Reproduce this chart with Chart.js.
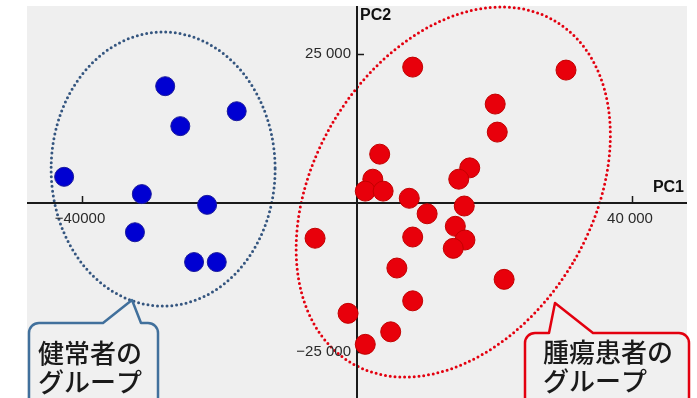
<!DOCTYPE html>
<html>
<head>
<meta charset="utf-8">
<script src="https://cdn.jsdelivr.net/npm/chart.js@4/dist/chart.umd.min.js"></script>
<style>
    html, body { margin: 0; padding: 0; background: #ffffff; }
    canvas { display: block; }
</style>
</head>
<body>
<canvas id="pca-chart" width="697" height="398"></canvas>
<script>
// PCA scores
const healthyX = [-27900, -17500, -25700, -42600, -31300, -21800, -32300, -23700, -20400];
const healthyY = [19600, 15400, 12900, 4400, 1500, -300, -4900, -9900, -9900];

const tumorX = [8100, 30400, 20100, 20400, 3300, 16400, 14800, 2300, 1200, 3800, 7600, 15600,
    10200, 14300, 15700, 14000, 8100, 5800, 21400, 8100, -1300, 4900, 1200, -6100];
const tumorY = [22800, 22300, 16600, 11900, 8200, 5900, 4000, 4000, 2000, 2000, 800, -500,
    -1800, -3900, -6200, -7600, -5700, -10900, -12800, -16400, -18500, -21600, -23700, -5900];

const xTicks = [-40000, 40000];
const xTickLabels = ['\u221240000', '40 000'];
const yTicks = [25000, -25000];
const yTickLabels = ['25 000', '\u221225 000'];

const axisTitles = ['PC1', 'PC2'];
const groupLabels = [['健常者の', 'グループ'], ['腫瘍患者の', 'グループ']];

document.addEventListener('DOMContentLoaded', function () {
    const ctx = document.getElementById('pca-chart').getContext('2d');

    const toPoints = (xs, ys) => xs.map((x, i) => ({ x: x, y: ys[i] }));

    // grey plot background
    const backgroundPlugin = {
        id: 'plotBackground',
        beforeDraw(chart) {
            const { ctx, chartArea } = chart;
            ctx.save();
            ctx.fillStyle = '#efefef';
            ctx.fillRect(chartArea.left, chartArea.top, chartArea.right - chartArea.left, chartArea.bottom - chartArea.top);
            ctx.restore();
        }
    };

    // axes through the origin, ticks pointing inwards
    const axesPlugin = {
        id: 'centerAxes',
        beforeDatasetsDraw(chart) {
            const { ctx, chartArea, scales } = chart;
            const x0 = scales.x.getPixelForValue(0);
            const y0 = scales.y.getPixelForValue(0);

            // dotted group ellipses
            ctx.save();
            ctx.lineCap = 'round';
            ctx.lineWidth = 3;
            ctx.setLineDash([0, 4.8]);

            ctx.strokeStyle = '#34557f';
            ctx.beginPath();
            ctx.ellipse(scales.x.getPixelForValue(-28200), scales.y.getPixelForValue(5700), 112, 137, 0, 0, Math.PI * 2);
            ctx.stroke();

            ctx.strokeStyle = '#e3000f';
            ctx.beginPath();
            ctx.ellipse(scales.x.getPixelForValue(14000), scales.y.getPixelForValue(1850), 139, 199, 0.54, 0, Math.PI * 2);
            ctx.stroke();
            ctx.restore();

            ctx.save();
            ctx.strokeStyle = '#1a1a1a';
            ctx.lineWidth = 2;
            ctx.beginPath();
            ctx.moveTo(chartArea.left, y0);
            ctx.lineTo(chartArea.right, y0);
            ctx.moveTo(x0, chartArea.top);
            ctx.lineTo(x0, chartArea.bottom);
            ctx.stroke();

            ctx.lineWidth = 1.5;
            ctx.beginPath();
            xTicks.forEach(v => {
                const px = Math.round(scales.x.getPixelForValue(v)) + 0.5;
                ctx.moveTo(px, y0);
                ctx.lineTo(px, y0 - 7);
            });
            yTicks.forEach(v => {
                const py = Math.round(scales.y.getPixelForValue(v)) + 0.5;
                ctx.moveTo(x0, py);
                ctx.lineTo(x0 + 7, py);
            });
            ctx.stroke();

            ctx.fillStyle = '#2a2a2a';
            ctx.font = '15px "Liberation Sans", Arial, sans-serif';
            ctx.textBaseline = 'middle';
            ctx.textAlign = 'center';
            xTicks.forEach((v, i) => {
                ctx.fillText(xTickLabels[i], scales.x.getPixelForValue(v) - 2, y0 + 16);
            });
            ctx.textAlign = 'right';
            yTicks.forEach((v, i) => {
                ctx.fillText(yTickLabels[i], x0 - 6, scales.y.getPixelForValue(v));
            });

            ctx.fillStyle = '#111111';
            ctx.font = 'bold 16px "Liberation Sans", Arial, sans-serif';
            ctx.textAlign = 'right';
            ctx.fillText(axisTitles[0], chartArea.right - 3, y0 - 15);
            ctx.textAlign = 'left';
            ctx.fillText(axisTitles[1], x0 + 3, chartArea.top + 10);
            ctx.restore();
        }
    };

    // speech bubbles with the group names
    function drawCallout(ctx, box, tail, color, lines, textX, textY) {
        const r = 10;
        ctx.save();
        ctx.beginPath();
        ctx.moveTo(box.left + r, box.top);
        ctx.lineTo(tail.left, box.top);
        ctx.lineTo(tail.tipX, tail.tipY);
        ctx.lineTo(tail.right, box.top);
        ctx.lineTo(box.right - r, box.top);
        ctx.arcTo(box.right, box.top, box.right, box.top + r, r);
        ctx.lineTo(box.right, box.bottom);
        ctx.lineTo(box.left, box.bottom);
        ctx.lineTo(box.left, box.top + r);
        ctx.arcTo(box.left, box.top, box.left + r, box.top, r);
        ctx.closePath();
        ctx.fillStyle = '#f0f0f0';
        ctx.fill();
        ctx.lineWidth = 2.5;
        ctx.lineJoin = 'round';
        ctx.strokeStyle = color;
        ctx.stroke();

        ctx.fillStyle = '#1a1a1a';
        ctx.font = '500 26px "Noto Sans CJK JP", sans-serif';
        ctx.textAlign = 'left';
        ctx.textBaseline = 'middle';
        lines.forEach((line, i) => ctx.fillText(line, textX, textY + i * 29));
        ctx.restore();
    }

    const calloutPlugin = {
        id: 'groupCallouts',
        afterDraw(chart) {
            const ctx = chart.ctx;
            drawCallout(ctx, { left: 29, top: 323, right: 158, bottom: 420 },
                { left: 103, right: 141, tipX: 132, tipY: 300 }, '#41709c', groupLabels[0], 38, 353);
            drawCallout(ctx, { left: 525, top: 333, right: 689, bottom: 420 },
                { left: 549, right: 593, tipX: 555, tipY: 303 }, '#e3000f', groupLabels[1], 543, 352);
        }
    };

    const pcaChart = new Chart(ctx, {
        type: 'scatter',
        data: {
            datasets: [
                {
                    label: 'healthy',
                    data: toPoints(healthyX, healthyY),
                    backgroundColor: '#0000d2',
                    borderColor: '#1a1a9c',
                    borderWidth: 1,
                    pointRadius: 9.5,
                    pointHoverRadius: 9.5
                },
                {
                    label: 'tumor',
                    data: toPoints(tumorX, tumorY),
                    backgroundColor: '#e8000b',
                    borderColor: '#c20000',
                    borderWidth: 1,
                    pointRadius: 10,
                    pointHoverRadius: 10
                }
            ]
        },
        options: {
            responsive: false,
            animation: false,
            devicePixelRatio: 1,
            layout: {
                autoPadding: false,
                padding: { left: 27, top: 6, right: 10, bottom: 0 }
            },
            scales: {
                x: { type: 'linear', min: -48000, max: 48000, display: false },
                y: { type: 'linear', min: -32700, max: 33050, display: false }
            },
            plugins: {
                legend: { display: false },
                tooltip: { enabled: false }
            }
        },
        plugins: [backgroundPlugin, axesPlugin, calloutPlugin]
    });
});
</script>
</body>
</html>
